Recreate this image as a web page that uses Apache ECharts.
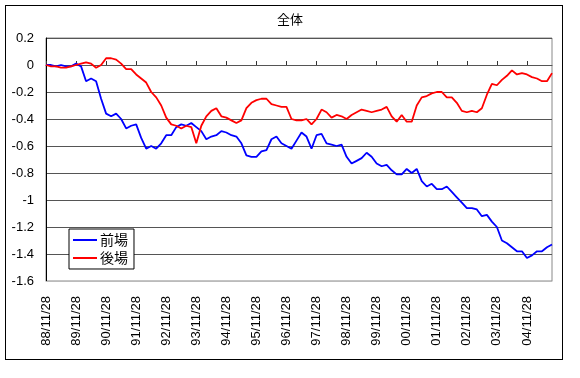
<!DOCTYPE html>
<html>
<head>
<meta charset="utf-8">
<script src="https://cdn.jsdelivr.net/npm/echarts@6/dist/echarts.min.js"></script>
<style>
  html, body { margin: 0; padding: 0; background: #fff; }
  #frame { position: absolute; left: 5px; top: 5px; width: 556px; height: 353px; border: 1px solid #000; }
  #main { position: absolute; left: 0; top: 0; width: 580px; height: 378px; }
</style>
</head>
<body>
<div id="frame"></div>
<div id="main"></div>
<script>
// one point every two months, starting 88/11/28
var dates = [];
for (var i = 0; i < 102; i++) {
    var m = 10 + i * 2;               // months since 88/01
    var yy = (88 + Math.floor(m / 12)) % 100;
    var mm = m % 12 + 1;
    dates.push((yy < 10 ? '0' : '') + yy + '/' + (mm < 10 ? '0' : '') + mm + '/28');
}

var zenba = [
    0, 0.0, -0.01, 0.0, -0.01, -0.01, 0.01, -0.01, -0.12, -0.1,
    -0.12, -0.25, -0.36, -0.38, -0.36, -0.4, -0.47, -0.45, -0.44, -0.54,
    -0.62, -0.6, -0.62, -0.58, -0.52, -0.52, -0.46, -0.44, -0.45, -0.43,
    -0.46, -0.49, -0.55, -0.53, -0.52, -0.49, -0.5, -0.52, -0.53, -0.58,
    -0.67, -0.68, -0.68, -0.64, -0.63, -0.55, -0.53, -0.58, -0.6, -0.62,
    -0.56, -0.5, -0.53, -0.62, -0.52, -0.51, -0.58, -0.59, -0.6, -0.59,
    -0.68, -0.73, -0.71, -0.69, -0.65, -0.68, -0.73, -0.75, -0.74, -0.78,
    -0.81, -0.81, -0.77, -0.8, -0.77, -0.86, -0.9, -0.88, -0.92, -0.92,
    -0.9, -0.94, -0.98, -1.02, -1.06, -1.06, -1.07, -1.12, -1.11, -1.16,
    -1.2, -1.3, -1.32, -1.35, -1.38, -1.38, -1.43, -1.41, -1.38, -1.38,
    -1.35, -1.33
];

var goba = [
    0, -0.01, -0.01, -0.02, -0.02, -0.01, 0.0, 0.01, 0.02, 0.01,
    -0.02, 0.0, 0.05, 0.05, 0.04, 0.01, -0.03, -0.03, -0.07, -0.1,
    -0.13, -0.2, -0.24, -0.3, -0.39, -0.44, -0.45, -0.47, -0.45, -0.46,
    -0.58, -0.45, -0.38, -0.34, -0.32, -0.38, -0.39, -0.41, -0.43, -0.41,
    -0.32, -0.28, -0.26, -0.25, -0.25, -0.29, -0.3, -0.31, -0.31, -0.4,
    -0.41, -0.41, -0.4, -0.44, -0.4, -0.33, -0.35, -0.39, -0.37, -0.38,
    -0.4, -0.37, -0.35, -0.33, -0.34, -0.35, -0.34, -0.33, -0.31, -0.38,
    -0.42, -0.37, -0.42, -0.42, -0.3, -0.24, -0.23, -0.21, -0.2, -0.2,
    -0.24, -0.24, -0.28, -0.34, -0.35, -0.34, -0.35, -0.32, -0.22, -0.14,
    -0.15, -0.11, -0.08, -0.04, -0.07, -0.06, -0.07, -0.09, -0.1, -0.12,
    -0.12, -0.06
];

var font = 'Liberation Sans, Noto Sans CJK JP, sans-serif';
var yearly = function (idx) { return idx % 6 === 0; };

var option = {
    animation: false,
    title: {
        text: '全体',
        left: 'center',
        top: 8,
        textStyle: { fontFamily: 'Noto Sans CJK JP', fontSize: 13, fontWeight: 'normal', color: '#000' }
    },
    legend: {
        orient: 'vertical',
        left: 69,
        top: 229,
        width: 66,
        padding: [4, 6, 4, 4],
        itemGap: 4,
        itemWidth: 24,
        itemHeight: 2,
        icon: 'rect',
        borderColor: '#000',
        borderWidth: 1,
        backgroundColor: '#fff',
        textStyle: { fontFamily: 'Noto Sans CJK JP', fontSize: 14, color: '#000', padding: [0, 0, 0, -2] },
        data: ['前場', '後場']
    },
    grid: {
        left: 46, right: 28, top: 38, bottom: 97,
        show: true, borderColor: '#888', borderWidth: 1
    },
    xAxis: [{
        type: 'category',
        data: dates,
        boundaryGap: false,
        axisLine: { onZero: false, lineStyle: { color: '#bbb' } },
        axisTick: { show: false },
        axisLabel: {
            interval: yearly,
            rotate: 90,
            margin: 15,
            fontFamily: font,
            fontSize: 13,
            color: '#000'
        },
        splitLine: { show: false }
    }, {
        type: 'category',
        data: dates,
        boundaryGap: false,
        position: 'bottom',
        axisLine: { onZero: true, lineStyle: { color: '#555' } },
        axisTick: { show: true, inside: true, length: 4, interval: yearly, lineStyle: { color: '#333' } },
        axisLabel: { show: false },
        splitLine: { show: false }
    }],
    yAxis: {
        type: 'value',
        min: -1.6,
        max: 0.2,
        interval: 0.2,
        axisLine: { show: true, lineStyle: { color: '#000' } },
        axisTick: { show: false },
        axisLabel: { margin: 12, fontFamily: font, fontSize: 13, color: '#000' },
        splitLine: { lineStyle: { color: '#555', width: 1 } }
    },
    series: [{
        name: '前場',
        type: 'line',
        data: zenba,
        symbol: 'none',
        lineStyle: { color: '#0000ff', width: 1.8 },
        itemStyle: { color: '#0000ff' }
    }, {
        name: '後場',
        type: 'line',
        data: goba,
        symbol: 'none',
        lineStyle: { color: '#ff0000', width: 1.8 },
        itemStyle: { color: '#ff0000' }
    }]
};

var chart = echarts.init(document.getElementById('main'));
chart.setOption(option);
</script>
</body>
</html>
